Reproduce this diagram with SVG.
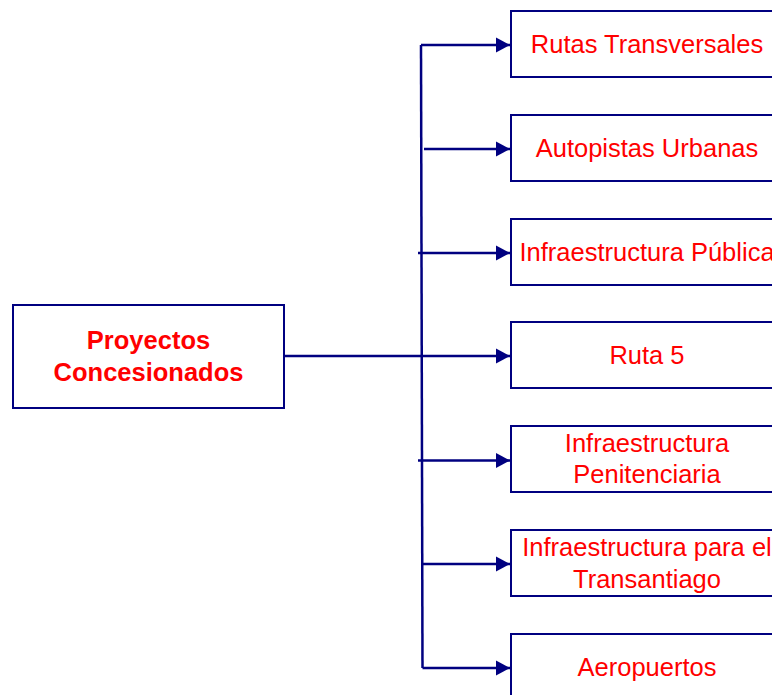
<svg xmlns="http://www.w3.org/2000/svg" width="772" height="695" viewBox="0 0 772 695">
  <style>
    .box { fill: #ffffff; stroke: #000080; stroke-width: 2; }
    .lbl { font-family: "Liberation Sans", Arial, sans-serif; font-size: 25.5px; fill: #ff0000; text-anchor: middle; }
    .bold { font-weight: bold; }
    .wire { fill: none; stroke: #000080; stroke-width: 2.5; }
  </style>
  <defs>
    <marker id="arrow" markerUnits="userSpaceOnUse" markerWidth="15" markerHeight="16" refX="14" refY="8" orient="auto">
      <path d="M0,0.5 L14,8 L0,15.5 Z" fill="#000080"/>
    </marker>
  </defs>

  <rect width="772" height="695" fill="#ffffff"/>

  <!-- connectors -->
  <g id="connectors">
    <path class="wire" d="M421,45 L422.5,668"/>
    <path class="wire" d="M421,45 H510" marker-end="url(#arrow)"/>
    <path class="wire" d="M424,149 H510" marker-end="url(#arrow)"/>
    <path class="wire" d="M418,253 H510" marker-end="url(#arrow)"/>
    <path class="wire" d="M284,356 H510" marker-end="url(#arrow)"/>
    <path class="wire" d="M418,460.5 H510" marker-end="url(#arrow)"/>
    <path class="wire" d="M422,564 H510" marker-end="url(#arrow)"/>
    <path class="wire" d="M422.5,668 H510" marker-end="url(#arrow)"/>
  </g>

  <!-- root node -->
  <g id="proyectos">
    <rect class="box" x="13" y="305" width="271" height="103"/>
    <text class="lbl bold" x="148.5" y="349">Proyectos</text>
    <text class="lbl bold" x="148.5" y="381">Concesionados</text>
  </g>

  <!-- project categories -->
  <g id="rutas-transversales">
    <rect class="box" x="511" y="11" width="272" height="66"/>
    <text class="lbl" x="647" y="53">Rutas Transversales</text>
  </g>
  <g id="autopistas-urbanas">
    <rect class="box" x="511" y="115" width="272" height="66"/>
    <text class="lbl" x="647" y="157">Autopistas Urbanas</text>
  </g>
  <g id="infraestructura-publica">
    <rect class="box" x="511" y="219" width="272" height="66"/>
    <text class="lbl" x="647" y="261">Infraestructura Pública</text>
  </g>
  <g id="ruta-5">
    <rect class="box" x="511" y="322" width="272" height="66"/>
    <text class="lbl" x="647" y="364">Ruta 5</text>
  </g>
  <g id="infraestructura-penitenciaria">
    <rect class="box" x="511" y="426" width="272" height="66"/>
    <text class="lbl" x="647" y="452">Infraestructura</text>
    <text class="lbl" x="647" y="483">Penitenciaria</text>
  </g>
  <g id="infraestructura-transantiago">
    <rect class="box" x="511" y="530" width="272" height="66"/>
    <text class="lbl" x="647" y="556">Infraestructura para el</text>
    <text class="lbl" x="647" y="587.5">Transantiago</text>
  </g>
  <g id="aeropuertos">
    <rect class="box" x="511" y="634" width="272" height="66"/>
    <text class="lbl" x="647" y="676">Aeropuertos</text>
  </g>
</svg>
